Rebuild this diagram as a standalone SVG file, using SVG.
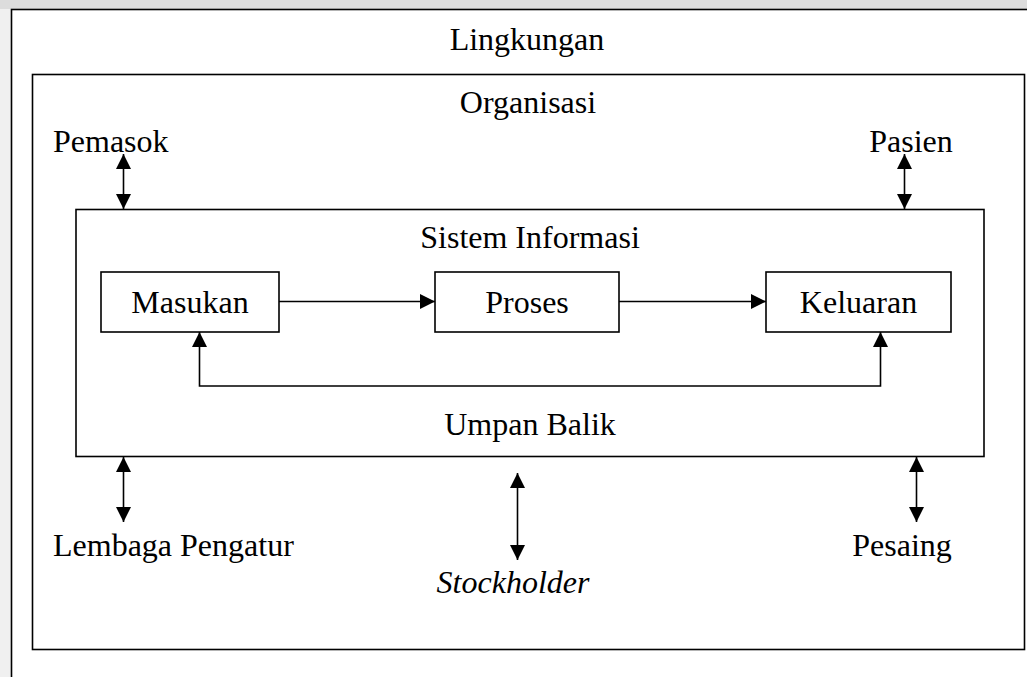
<svg xmlns="http://www.w3.org/2000/svg" width="1027" height="677" viewBox="0 0 1027 677">
  <defs>
    <style>
      .frame { fill: none; stroke: #000; stroke-width: 1.6; }
      .box { fill: #fff; stroke: #000; stroke-width: 1.6; }
      .wire { fill: none; stroke: #000; stroke-width: 1.6; }
      .lbl { font-family: "Liberation Serif", "Times New Roman", serif; font-size: 32px; fill: #000; }
      .mid { text-anchor: middle; }
      .it { font-style: italic; }
    </style>
    <marker id="tip" viewBox="0 0 15 15" markerUnits="userSpaceOnUse" markerWidth="15" markerHeight="15" refX="15" refY="7.5" orient="auto-start-reverse">
      <path d="M0,0 L15,7.5 L0,15 z" fill="#000"/>
    </marker>
  </defs>

  <!-- page background -->
  <rect x="0" y="0" width="1027" height="677" fill="#fff"/>
  <rect x="0" y="0" width="1027" height="9" fill="#dcdcdc"/>
  <rect x="0" y="9" width="11" height="668" fill="#f0f0f0"/>

  <!-- environment -->
  <g id="lingkungan">
    <rect class="frame" x="11.5" y="9.5" width="1030" height="690" fill="#fff"/>
    <text class="lbl mid" x="527" y="50">Lingkungan</text>
  </g>

  <!-- organisation -->
  <g id="organisasi">
    <rect class="frame" x="32.5" y="74.5" width="992" height="575"/>
    <text class="lbl mid" x="528" y="113">Organisasi</text>
  </g>

  <!-- information system -->
  <g id="sistem-informasi">
    <rect class="box" x="76" y="209.5" width="908" height="247"/>
    <text class="lbl mid" x="530" y="248">Sistem Informasi</text>
    <text class="lbl mid" x="530" y="435">Umpan Balik</text>
  </g>

  <g id="masukan">
    <rect class="box" x="101" y="272" width="178" height="60"/>
    <text class="lbl mid" x="190" y="313">Masukan</text>
  </g>
  <g id="proses">
    <rect class="box" x="435" y="272" width="184" height="60"/>
    <text class="lbl mid" x="527" y="313">Proses</text>
  </g>
  <g id="keluaran">
    <rect class="box" x="766" y="272" width="185" height="60"/>
    <text class="lbl mid" x="858.5" y="313">Keluaran</text>
  </g>

  <!-- external parties -->
  <g id="pemasok"><text class="lbl" x="53" y="151.5">Pemasok</text></g>
  <g id="pasien"><text class="lbl mid" x="911" y="151.5">Pasien</text></g>
  <g id="lembaga-pengatur"><text class="lbl" x="53" y="555.5">Lembaga Pengatur</text></g>
  <g id="stockholder"><text class="lbl mid it" x="513" y="593">Stockholder</text></g>
  <g id="pesaing"><text class="lbl mid" x="902" y="555.5">Pesaing</text></g>

  <!-- connectors -->
  <g id="connectors">
    <line class="wire" x1="279" y1="301.5" x2="435" y2="301.5" marker-end="url(#tip)"/>
    <line class="wire" x1="619" y1="301.5" x2="766" y2="301.5" marker-end="url(#tip)"/>
    <path class="wire" d="M199.5,332 V386 H880.5 V332" marker-start="url(#tip)" marker-end="url(#tip)"/>

    <line class="wire" x1="123.5" y1="154" x2="123.5" y2="209" marker-start="url(#tip)" marker-end="url(#tip)"/>
    <line class="wire" x1="904.5" y1="154" x2="904.5" y2="209" marker-start="url(#tip)" marker-end="url(#tip)"/>
    <line class="wire" x1="123.5" y1="457" x2="123.5" y2="522" marker-start="url(#tip)" marker-end="url(#tip)"/>
    <line class="wire" x1="517.5" y1="473" x2="517.5" y2="560" marker-start="url(#tip)" marker-end="url(#tip)"/>
    <line class="wire" x1="916.5" y1="457" x2="916.5" y2="522" marker-start="url(#tip)" marker-end="url(#tip)"/>
  </g>
</svg>
